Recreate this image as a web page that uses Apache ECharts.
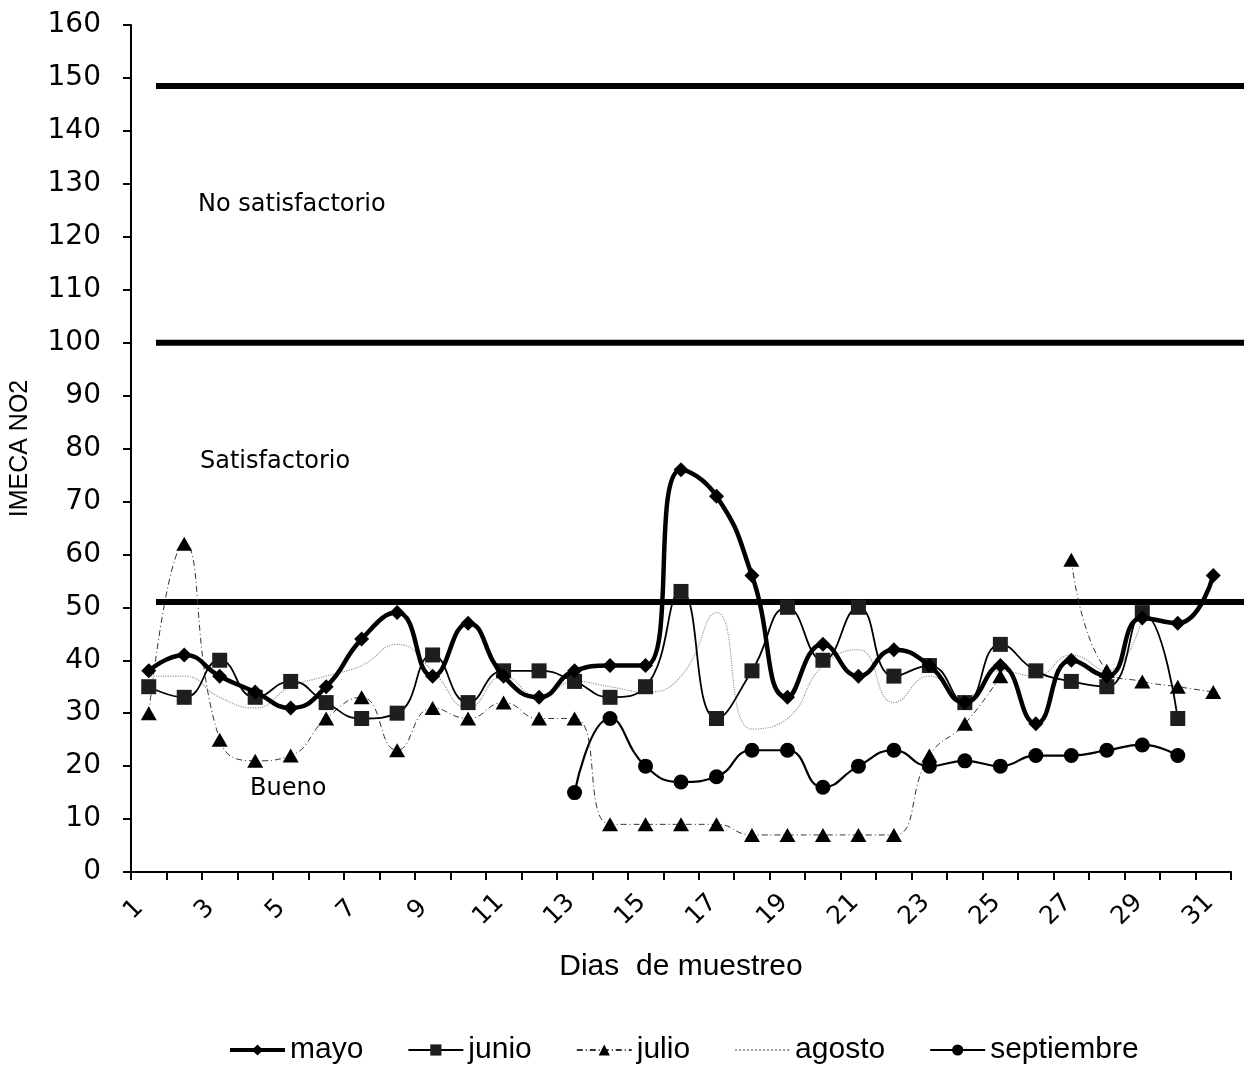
<!DOCTYPE html>
<html>
<head>
<meta charset="utf-8">
<script src="https://cdn.jsdelivr.net/npm/echarts@6/dist/echarts.min.js"></script>
<style>
  html, body { margin: 0; padding: 0; background: #fff; }
  #chart { width: 1244px; height: 1066px; }
</style>
</head>
<body>
<div id="chart"></div>
<script>
// Sampling days
const dias = ['1','2','3','4','5','6','7','8','9','10','11','12','13','14','15','16',
              '17','18','19','20','21','22','23','24','25','26','27','28','29','30','31'];

// IMECA NO2 per month and day (null = no sample)
const mayo = [38, 41, 37, 34, 31, 35, 44, 49, 37, 47, 37, 33, 38, 39, 39, 76,
              71, 56, 33, 43, 37, 42, 39, 32, 39, 28, 40, 37, 48, 47, 56];
const junio = [35, 33, 40, 33, 36, 32, 29, 30, 41, 32, 38, 38, 36, 33, 35, 53,
               29, 38, 50, 40, 50, 37, 39, 32, 43, 38, 36, 35, 49, 29, null];
const julio = [30, 62, 25, 21, 22, 29, 33, 23, 31, 29, 32, 29, 29, 9, 9, 9,
               9, 7, 7, 7, 7, 7, 22, 28, 37, null, 59, 38, 36, 35, 34];
const agosto = [37, 37, 33, 31, 35, 37, 39, 43, 38, 31, 37, 33, 36, 35, 34, 37,
                49, 27, 29, 39, 42, 32, 37, 33, 38, 37, 41, 38, 48, null, null];
const septiembre = [null, null, null, null, null, null, null, null, null, null, null, null, 15, 29, 20, 17,
                    18, 23, 23, 16, 20, 23, 20, 21, 20, 22, 22, 23, 24, 22, null];

// Category limits (IMECA)
const limites = [148.5, 100, 51];

// Zone captions
const zonas = ['No satisfactorio', 'Satisfactorio', 'Bueno'];

const chart = echarts.init(document.getElementById('chart'));

const FONT = 'Liberation Sans, Arial, sans-serif';
const WIDE_FONT = 'DejaVu Sans, sans-serif';
const GRID_TOP = 25, GRID_BOTTOM = 194;

const lineSeries = limites.map(v => ({
  type: 'line',
  xAxisIndex: 1,
  yAxisIndex: 1,
  data: [[0, v], [1, v]],
  symbol: 'none',
  silent: true,
  lineStyle: { color: '#000', width: 6 },
  z: 1
}));

chart.setOption({
  animation: false,
  backgroundColor: '#fff',
  textStyle: { fontFamily: FONT, color: '#000' },
  grid: [
    { left: 130, right: 13, top: GRID_TOP, bottom: GRID_BOTTOM },
    { left: 156, right: 0, top: GRID_TOP, bottom: GRID_BOTTOM }
  ],
  legend: {
    bottom: 1,
    left: 228,
    padding: 0,
    itemWidth: 55,
    itemHeight: 14,
    itemGap: 44,
    textStyle: { fontSize: 30, fontFamily: FONT, color: '#000' },
    data: [
      { name: 'mayo', lineStyle: { width: 4 } },
      { name: 'junio' },
      { name: 'julio' },
      { name: 'agosto', itemStyle: { opacity: 0 } },
      { name: 'septiembre' }
    ]
  },
  graphic: [
    { type: 'text', left: 198, top: 193, style: { text: zonas[0], fontSize: 24, fontFamily: WIDE_FONT, fill: '#000' } },
    { type: 'text', left: 200, top: 450, style: { text: zonas[1], fontSize: 24, fontFamily: WIDE_FONT, fill: '#000' } },
    { type: 'text', left: 250, top: 777, style: { text: zonas[2], fontSize: 24, fontFamily: WIDE_FONT, fill: '#000' } }
  ],
  xAxis: [
    {
      type: 'category',
      gridIndex: 0,
      data: dias,
      boundaryGap: true,
      name: 'Dias  de muestreo',
      nameLocation: 'middle',
      nameGap: 80,
      nameTextStyle: { fontSize: 30, fontFamily: FONT, color: '#000' },
      axisLine: { lineStyle: { color: '#000', width: 2 } },
      axisTick: { show: true, inside: false, length: 8, interval: 0, lineStyle: { color: '#000', width: 2 } },
      axisLabel: {
        interval: 1, rotate: 45, margin: 23,
        align: 'center', verticalAlign: 'middle', padding: [0, 42, 0, 0],
        fontSize: 25, fontFamily: WIDE_FONT, color: '#000'
      },
      splitLine: { show: false }
    },
    {
      type: 'value',
      gridIndex: 1,
      min: 0,
      max: 1,
      show: false
    }
  ],
  yAxis: [
    {
      type: 'value',
      gridIndex: 0,
      min: 0,
      max: 160,
      interval: 10,
      name: 'IMECA NO2',
      nameLocation: 'middle',
      nameGap: 98,
      nameTextStyle: { fontSize: 25, fontFamily: FONT, color: '#000' },
      axisLine: { show: true, lineStyle: { color: '#000', width: 2 } },
      axisTick: { show: true, inside: false, length: 8, lineStyle: { color: '#000', width: 2 } },
      axisLabel: { margin: 30, fontSize: 28, fontFamily: WIDE_FONT, color: '#000' },
      splitLine: { show: false }
    },
    {
      type: 'value',
      gridIndex: 1,
      min: 0,
      max: 160,
      show: false
    }
  ],
  series: [
    ...lineSeries,
    {
      name: 'agosto',
      type: 'line',
      data: agosto,
      smooth: 0.5,
      symbol: 'none',
      itemStyle: { color: '#9a9a9a' },
      lineStyle: { color: '#9a9a9a', width: 1.2, type: 'dotted' },
      z: 2
    },
    {
      name: 'julio',
      type: 'line',
      data: julio,
      smooth: 0.5,
      symbol: 'triangle',
      symbolSize: [16, 14],
      itemStyle: { color: '#000' },
      lineStyle: { color: '#333', width: 1, type: [6, 3, 1, 3] },
      z: 3
    },
    {
      name: 'junio',
      type: 'line',
      data: junio,
      smooth: 0.5,
      symbol: 'rect',
      symbolSize: 15,
      itemStyle: { color: '#1e1e1e' },
      lineStyle: { color: '#000', width: 1.8 },
      z: 4
    },
    {
      name: 'mayo',
      type: 'line',
      data: mayo,
      smooth: 0.5,
      symbol: 'diamond',
      symbolSize: 15,
      itemStyle: { color: '#000' },
      lineStyle: { color: '#000', width: 4.5 },
      z: 5
    },
    {
      name: 'septiembre',
      type: 'line',
      data: septiembre,
      smooth: 0.5,
      symbol: 'circle',
      symbolSize: 15,
      itemStyle: { color: '#000' },
      lineStyle: { color: '#000', width: 2.2 },
      z: 6
    }
  ]
});
</script>
</body>
</html>
